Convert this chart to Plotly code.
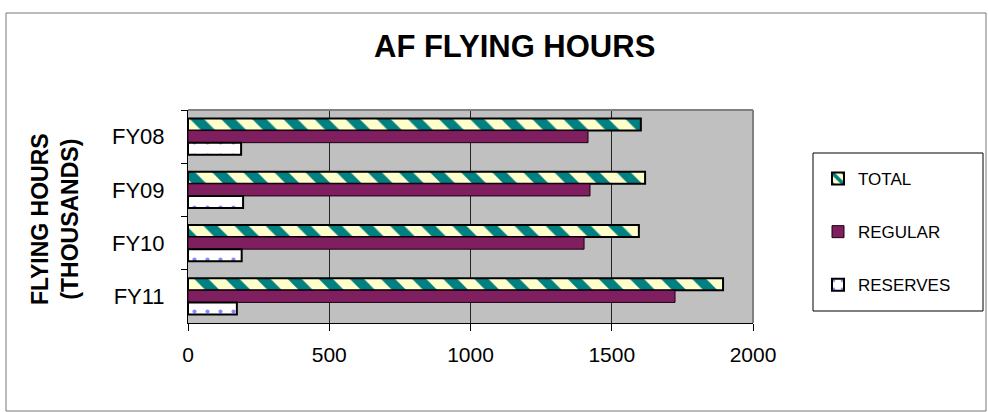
import plotly.graph_objects as go

categories = ["FY08", "FY09", "FY10", "FY11"]
total = [1603, 1618, 1596, 1894]
regular = [1416, 1423, 1402, 1724]
reserves = [188, 195, 190, 173]
x_ticks = [0, 500, 1000, 1500, 2000]

W, H = 988, 412
L, R, T, B = 188, 753, 110, 323
PW, PH = R - L, B - T

def px(x):
    return (x - L) / PW

def py(y):
    return (B - y) / PH

FONT = "Liberation Sans, Arial, sans-serif"

fig = go.Figure()
fig.add_trace(go.Bar(
    name="TOTAL", x=total, y=categories, orientation="h", legendgroup="a",
    marker=dict(color="#FFFFCC", line=dict(color="#000000", width=2),
                pattern=dict(shape="\\", fgcolor="#008080", bgcolor="#FFFFCC",
                             size=22, solidity=0.45, fillmode="replace")),
))
fig.add_trace(go.Bar(
    name="REGULAR", x=regular, y=categories, orientation="h", legendgroup="b",
    marker=dict(color="#801F60", line=dict(color="#1a0010", width=1)),
))
fig.add_trace(go.Bar(
    name="RESERVES", x=reserves, y=categories, orientation="h", legendgroup="c",
    marker=dict(color="#FFFFFF", line=dict(color="#000000", width=2),
                pattern=dict(shape=".", fgcolor="#8888FF", bgcolor="#FFFFFF",
                             size=13, solidity=0.08, fillmode="replace")),
))

fig.update_layout(
    width=W, height=H,
    margin=dict(l=L, r=W - R, t=T, b=H - B, pad=0),
    paper_bgcolor="#FFFFFF", plot_bgcolor="#C0C0C0",
    barmode="group", bargap=0.32, bargroupgap=0,
    font=dict(family=FONT, color="#000000", size=20),
    showlegend=True,
    legend=dict(x=px(818), y=py(161), xanchor="left", yanchor="top",
                bgcolor="rgba(0,0,0,0)", borderwidth=0,
                font=dict(size=17, family=FONT), tracegroupgap=28,
                traceorder="grouped", itemwidth=30),
    xaxis=dict(range=[0, 2000], tickvals=x_ticks, ticks="outside", ticklen=7,
               tickcolor="#000", showline=True, linecolor="#000", linewidth=1,
               showgrid=True, gridcolor="#222222", gridwidth=1, zeroline=False,
               tickfont=dict(size=21), ticklabelstandoff=6, fixedrange=True),
    yaxis=dict(type="category", categoryorder="array", categoryarray=categories,
               autorange="reversed", ticks="outside", ticklen=6, tickcolor="#000",
               tickson="boundaries", showline=True, linecolor="#000", linewidth=1,
               showgrid=False, tickfont=dict(size=22), ticklabelstandoff=18,
               fixedrange=True),
    annotations=[
        dict(text="<b>AF FLYING HOURS</b>", xref="paper", yref="paper",
             x=px(514), y=py(47), xanchor="center", yanchor="middle",
             showarrow=False, font=dict(size=31, family=FONT)),
        dict(text="<b>FLYING HOURS<br>(THOUSANDS)</b>", xref="paper", yref="paper",
             x=px(55), y=py(219), xanchor="center", yanchor="middle",
             textangle=-90, showarrow=False, font=dict(size=23, family=FONT)),
    ],
    shapes=[
        dict(type="line", xref="paper", yref="paper", x0=0, x1=1, y0=1, y1=1,
             line=dict(color="#808080", width=2), layer="above"),
        dict(type="line", xref="paper", yref="paper", x0=1, x1=1, y0=0, y1=1,
             line=dict(color="#808080", width=2), layer="above"),
        dict(type="rect", xref="paper", yref="paper",
             x0=px(813), x1=px(983), y0=py(311), y1=py(153),
             line=dict(color="#000000", width=1), fillcolor="rgba(0,0,0,0)"),
        dict(type="rect", xref="paper", yref="paper",
             x0=px(6), x1=px(986), y0=py(411), y1=py(13),
             line=dict(color="#777777", width=1), fillcolor="rgba(0,0,0,0)"),
    ],
)

fig.write_html("out.html", config={"displayModeBar": False},
               post_script="document.body.style.margin='0px';")
